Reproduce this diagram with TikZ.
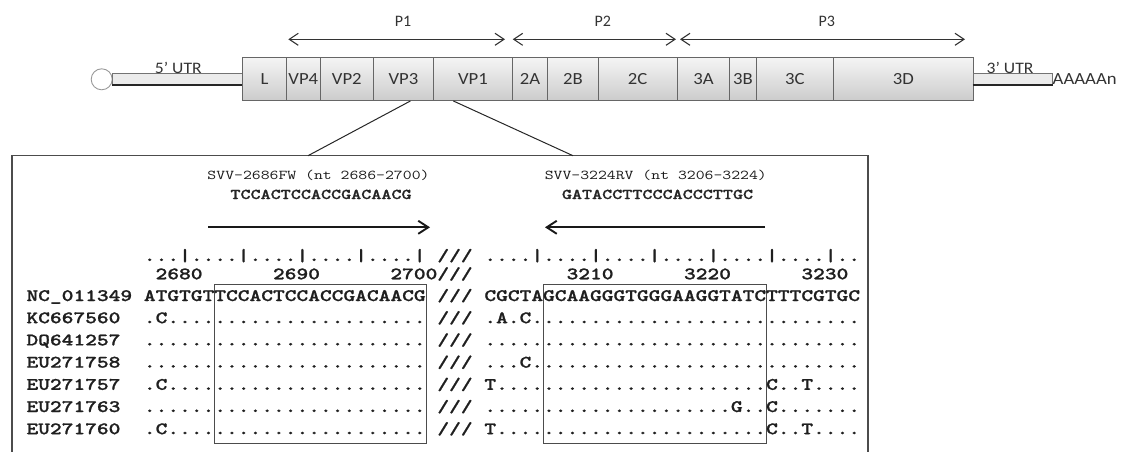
\documentclass[tikz,border=0pt]{standalone}
\usepackage{fontspec}
\newfontfamily\sansf{Carlito}
\newfontfamily\seqbf{lmmonolt10-bold.otf}[FakeBold=0.9]
\usepackage{graphicx}
\usetikzlibrary{arrows.meta}
\newcommand{\sx}[1]{\scalebox{1.1}[1]{#1}}
\newcommand{\sq}[1]{\scalebox{1.2778}[1]{#1}}
\tikzset{
  seg/.style={draw=black!60, line width=0.9pt, top color=black!4, bottom color=black!20,
    minimum height=43.2pt, inner sep=0pt, anchor=west, font=\sansf\fontsize{17}{17}\selectfont, text=black!80},
  bar/.style={draw=black!55, fill=black!8, line width=0.8pt, minimum height=11.4pt, inner sep=0pt, anchor=west},
  barbase/.style={line width=1.4pt, black!85},
  sanslab/.style={font=\sansf\fontsize{16}{16}\selectfont, text=black!80, inner sep=0pt},
  parrow/.style={{Straight Barb[length=9pt,width=12pt]}-{Straight Barb[length=9pt,width=12pt]}, line width=1.1pt, black!80},
  prarrow/.style={-{Straight Barb[length=10pt,width=13pt]}, line width=1.9pt, black!90},
  frame/.style={draw=black!70, line width=1.4pt},
  conn/.style={draw=black!85, line width=1pt},
  plabel/.style={font=\fontsize{13.5}{13.5}\selectfont\ttfamily, text=black!90, inner sep=0pt, anchor=base},
  pseq/.style={font=\fontsize{15}{15}\selectfont\seqbf, text=black!85, inner sep=0pt, anchor=base},
  aln/.style={font=\fontsize{17.5}{17.5}\selectfont\seqbf, text=black!88, inner sep=0pt, anchor=base west},
  ibox/.style={draw=black!70, line width=1.3pt, inner sep=0pt, anchor=north west}
}
\newcommand{\arow}[5]{%
  \node[aln] (name#1) at (26.3,#2) {\sq{#3}};
  \node[aln] (left#1) at (143.7,#2) {\sq{#4}};
  \node[aln] (sl#1) at (437.2,#2) {\sq{///}};
  \node[aln] (right#1) at (484.2,#2) {\sq{#5}};}
\begin{document}
\begin{tikzpicture}[x=1pt,y=-1pt]
\useasboundingbox (0,0) rectangle (1121,452);
% genome
\node[circle, draw=black!40, fill=white, line width=0.9pt, minimum size=21pt, inner sep=0pt] (cap) at (101.7,79.3) {};
\node[bar, minimum width=130pt] (utr5) at (112.3,79) {};
\draw[barbase] (utr5.south west) -- (utr5.south east);
\foreach \x/\w/\nm/\lab in {242.3/43.4/L/L, 285.7/34.3/VPfour/VP4, 320/52.7/VPtwo/VP2, 372.7/60.6/VPthree/VP3,
  433.3/78.4/VPone/VP1, 511.7/35.6/twoA/2A, 547.3/50.4/twoB/2B, 597.7/79/twoC/2C, 676.7/52.6/threeA/3A,
  729.3/26.4/threeB/3B, 755.7/77.6/threeC/3C, 833.3/139.4/threeD/3D}
  \node[seg, minimum width=\w pt] (\nm) at (\x,78.9) {\sx{\lab}};
\node[bar, minimum width=79pt] (utr3) at (972.7,79) {};
\draw[barbase] (utr3.south west) -- (utr3.south east);
\node[sanslab, anchor=base] (l5) at (178.3,74) {\sx{5’ UTR}};
\node[sanslab, anchor=base] (l3) at (1010,74) {\sx{3’ UTR}};
\node[anchor=west, inner sep=0pt, font=\sansf\fontsize{17}{17}\selectfont, text=black!80] (polyA) at (utr3.east) {\sx{AAAAAn}};
% polyprotein arrows
\coordinate (p1a) at (288.3,39.3); \coordinate (p1b) at (505,39.3);
\coordinate (p2a) at (512.7,39.3); \coordinate (p2b) at (676,39.3);
\coordinate (p3a) at (680,39.3); \coordinate (p3b) at (965,39.3);
\draw[parrow] (p1a) -- (p1b);
\draw[parrow] (p2a) -- (p2b);
\draw[parrow] (p3a) -- (p3b);
\node[sanslab] (P1) at (403,21.7) {P1};
\node[sanslab] (P2) at (602.7,21.7) {P2};
\node[sanslab] (P3) at (826.7,21.7) {P3};
% frame
\coordinate (fbl) at (12,452); \coordinate (ftl) at (12,155.7);
\coordinate (ftr) at (868,155.7); \coordinate (fbr) at (868,452);
\draw[frame] (fbl) -- (ftl) -- (ftr) -- (fbr);
\coordinate (fl) at (308,155.7); \coordinate (fr) at (573,155.7);
\draw[conn] ([xshift=7pt]VPthree.south) -- (fl);
\draw[conn] ([xshift=20pt]VPone.south west) -- (fr);
% primers
\node[plabel] (fwlab) at (318.5,179) {\sq{SVV-2686FW (nt 2686-2700)}};
\node[pseq] (fwseq) at (321,199) {\sq{TCCACTCCACCGACAACG}};
\node[plabel] (rvlab) at (655.8,179) {\sq{SVV-3224RV (nt 3206-3224)}};
\node[pseq] (rvseq) at (657.5,199) {\sq{GATACCTTCCCACCCTTGC}};
\coordinate (fwa) at (208.3,227.3); \coordinate (fwb) at (430,227.3);
\coordinate (rva) at (765,227.3); \coordinate (rvb) at (545,227.3);
\draw[prarrow] (fwa) -- (fwb);
\draw[prarrow] (rva) -- (rvb);
% ruler and numbers
\node[aln] (rulL) at (143.7,261) {\sq{...|....|....|....|....|}};
\node[aln] (rulS) at (437.2,261) {\sq{///}};
\node[aln] (rulR) at (484.2,261) {\sq{....|....|....|....|....|....|..}};
\node[aln] (n2680) at (155.4,279.3) {\sq{2680}};
\node[aln] (n2690) at (272.8,279.3) {\sq{2690}};
\node[aln] (n2700) at (390.2,279.3) {\sq{2700///}};
\node[aln] (n3210) at (566.4,279.3) {\sq{3210}};
\node[aln] (n3220) at (683.8,279.3) {\sq{3220}};
\node[aln] (n3230) at (801.2,279.3) {\sq{3230}};
% primer boxes
\node[ibox, minimum width=211.4pt, minimum height=159.2pt] (fwbox) at (214.1,283.5) {};
\node[ibox, minimum width=223.1pt, minimum height=159.2pt] (rvbox) at (542.9,283.5) {};
% alignment rows
\arow{1}{301}{NC\_011349}{ATGTGTTCCACTCCACCGACAACG}{CGCTAGCAAGGGTGGGAAGGTATCTTTCGTGC}
\arow{2}{323.2}{KC667560}{.C......................}{.A.C............................}
\arow{3}{345.4}{DQ641257}{........................}{................................}
\arow{4}{367.6}{EU271758}{........................}{...C............................}
\arow{5}{389.8}{EU271757}{.C......................}{T.......................C..T....}
\arow{6}{412}{EU271763}{........................}{.....................G..C.......}
\arow{7}{434.2}{EU271760}{.C......................}{T.......................C..T....}
\end{tikzpicture}
\end{document}
